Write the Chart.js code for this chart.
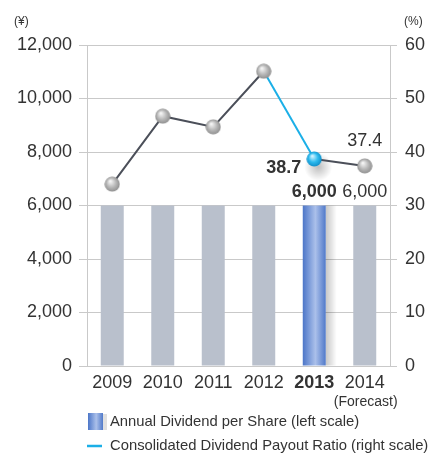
<!DOCTYPE html>
<html>
<head>
<meta charset="utf-8">
<script src="https://cdn.jsdelivr.net/npm/chart.js@4/dist/chart.umd.min.js"></script>
<style>
  body { margin: 0; background: #fff; }
  #wrap { width: 431px; height: 453px; position: relative; }
</style>
</head>
<body>
<div id="wrap"><canvas id="dividends"></canvas></div>
<script>
// fiscal years, 2014 is the forecast
const years = ["2009", "2010", "2011", "2012", "2013", "2014"];
const dividendPerShare = [6000, 6000, 6000, 6000, 6000, 6000];   // yen, left scale
const payoutRatio = [34.0, 46.7, 44.7, 55.1, 38.7, 37.4];       // %, right scale
const yenTicks = [0, 2000, 4000, 6000, 8000, 10000, 12000];
const pctTicks = [0, 10, 20, 30, 40, 50, 60];
const currentYear = 4;      // 2013, highlighted
const labelledYears = [4, 5];

const FONT = "'Liberation Sans', Arial, sans-serif";
const TEXT = "#333";
const GRID = "#c9c9c9";
const GREY_BAR = "#b9c0cc";
const BLUE_LINE = "#1bafe7";
const DARK_LINE = "#4b4f59";

function ball(c0, c1, c2) {
    const cv = document.createElement("canvas");
    cv.width = cv.height = 16;
    const g = cv.getContext("2d");
    const grad = g.createRadialGradient(6, 5, 0.5, 8, 8, 8);
    grad.addColorStop(0, c0);
    grad.addColorStop(0.55, c1);
    grad.addColorStop(1, c2);
    g.fillStyle = grad;
    g.beginPath();
    g.arc(8, 8, 7.6, 0, Math.PI * 2);
    g.fill();
    return cv;
}
const greyBall = ball("#f6f6f6", "#b8b8b8", "#8c8c8c");
const blueBall = ball("#d2f3ff", "#2cbaee", "#0e8bc6");

function blueBarFill(ctx, x0, x1) {
    const g = ctx.createLinearGradient(x0, 0, x1, 0);
    g.addColorStop(0, "#4c76c8");
    g.addColorStop(0.55, "#abc0ea");
    g.addColorStop(1, "#5079c9");
    return g;
}

function barFill(c) {
    if (c.dataIndex !== currentYear) return GREY_BAR;
    const chart = c.chart;
    if (!chart.chartArea) return "#6f8fd4";
    const x = chart.scales.x.getPixelForValue(currentYear);
    const half = chart.scales.x.width / years.length * 0.455 / 2;
    return blueBarFill(chart.ctx, x - half, x + half);
}

const fmt = v => v.toLocaleString("en-US");

const extras = {
    id: "extras",
    beforeDatasetsDraw(chart) {
        const ctx = chart.ctx;
        const bar = chart.getDatasetMeta(1).data[currentYear];
        const pt = chart.getDatasetMeta(0).data[currentYear];
        ctx.save();
        // soft shadow right of the highlighted bar
        const right = bar.x + bar.width / 2;
        const sg = ctx.createLinearGradient(right, 0, right + 11, 0);
        sg.addColorStop(0, "rgba(0,0,0,0.22)");
        sg.addColorStop(1, "rgba(0,0,0,0)");
        ctx.fillStyle = sg;
        ctx.fillRect(right, bar.y, 11, bar.base - bar.y);
        // shadow under the highlighted point
        const rg = ctx.createRadialGradient(pt.x + 4, pt.y + 8, 0, pt.x + 4, pt.y + 8, 14);
        rg.addColorStop(0, "rgba(0,0,0,0.25)");
        rg.addColorStop(1, "rgba(0,0,0,0)");
        ctx.fillStyle = rg;
        ctx.fillRect(pt.x - 12, pt.y - 8, 34, 34);
        ctx.restore();
    },
    afterDatasetsDraw(chart) {
        const ctx = chart.ctx;
        const pts = chart.getDatasetMeta(0).data;
        const bars = chart.getDatasetMeta(1).data;
        ctx.save();
        ctx.fillStyle = TEXT;
        ctx.textBaseline = "middle";
        labelledYears.forEach(i => {
            const bold = i === currentYear ? "bold " : "";
            ctx.font = bold + "18px " + FONT;
            ctx.textAlign = "center";
            ctx.fillText(fmt(dividendPerShare[i]), bars[i].x, bars[i].y - 13);
            if (i === currentYear) {
                ctx.textAlign = "right";
                ctx.fillText(payoutRatio[i].toFixed(1), pts[i].x - 13, pts[i].y + 9);
            } else {
                ctx.fillText(payoutRatio[i].toFixed(1), pts[i].x, pts[i].y - 25);
            }
        });
        ctx.restore();
    },
    afterDraw(chart) {
        const ctx = chart.ctx;
        ctx.save();
        ctx.fillStyle = TEXT;
        ctx.textBaseline = "middle";
        ctx.font = "12px " + FONT;
        ctx.textAlign = "left";
        ctx.fillText("(¥)", 14, 22);
        ctx.fillText("(%)", 404, 22);

        ctx.font = "14px " + FONT;
        ctx.textAlign = "center";
        ctx.fillText("(Forecast)", chart.scales.x.getPixelForValue(5) + 1, 402);

        // legend
        ctx.fillStyle = "rgba(0,0,0,0.12)";
        ctx.fillRect(103, 414, 4, 16);
        ctx.fillStyle = blueBarFill(ctx, 88, 103);
        ctx.fillRect(88, 413, 15, 17);
        ctx.strokeStyle = BLUE_LINE;
        ctx.lineWidth = 2.5;
        ctx.beginPath();
        ctx.moveTo(87, 446);
        ctx.lineTo(102, 446);
        ctx.stroke();
        ctx.fillStyle = TEXT;
        ctx.textAlign = "left";
        ctx.font = "14.8px " + FONT;
        ctx.fillText("Annual Dividend per Share (left scale)", 110, 422);
        ctx.fillText("Consolidated Dividend Payout Ratio (right scale)", 110, 446);
        ctx.restore();
    }
};

new Chart(document.getElementById("dividends"), {
    data: {
        labels: years,
        datasets: [
            {
                type: "line",
                label: "Consolidated Dividend Payout Ratio (right scale)",
                data: payoutRatio,
                yAxisID: "y1",
                order: 0,
                borderWidth: 2,
                borderColor: DARK_LINE,
                segment: {
                    borderColor: c => c.p0DataIndex === 3 ? BLUE_LINE : DARK_LINE
                },
                pointStyle: payoutRatio.map((v, i) => i === currentYear ? blueBall : greyBall),
                tension: 0
            },
            {
                type: "bar",
                label: "Annual Dividend per Share (left scale)",
                data: dividendPerShare,
                yAxisID: "y",
                order: 1,
                backgroundColor: barFill,
                categoryPercentage: 1,
                barPercentage: 0.455
            }
        ]
    },
    options: {
        responsive: true,
        maintainAspectRatio: false,
        animation: false,
        layout: { padding: { top: 45, left: 0, right: 0, bottom: 0 } },
        plugins: { legend: { display: false }, tooltip: { enabled: false } },
        scales: {
            x: {
                grid: { display: false, drawTicks: false },
                border: { display: false },
                ticks: {
                    padding: 6,
                    color: TEXT,
                    font: c => ({ family: FONT, size: 18, weight: c.index === currentYear ? "bold" : "normal" })
                },
                afterFit: s => { s.height = 87; }
            },
            y: {
                position: "left",
                min: 0,
                max: 12000,
                afterBuildTicks: s => { s.ticks = yenTicks.map(v => ({ value: v })); },
                grid: { color: GRID, lineWidth: 1, tickLength: 8 },
                border: { color: GRID },
                ticks: {
                    padding: 7,
                    color: TEXT,
                    font: { family: FONT, size: 18 },
                    callback: v => fmt(v)
                },
                afterFit: s => { s.width = 87; }
            },
            y1: {
                position: "right",
                min: 0,
                max: 60,
                afterBuildTicks: s => { s.ticks = pctTicks.map(v => ({ value: v })); },
                grid: { color: GRID, drawOnChartArea: false, tickLength: 7 },
                border: { color: GRID },
                ticks: {
                    padding: 8,
                    color: TEXT,
                    font: { family: FONT, size: 18 }
                },
                afterFit: s => { s.width = 41; }
            }
        }
    },
    plugins: [extras]
});
</script>
</body>
</html>
